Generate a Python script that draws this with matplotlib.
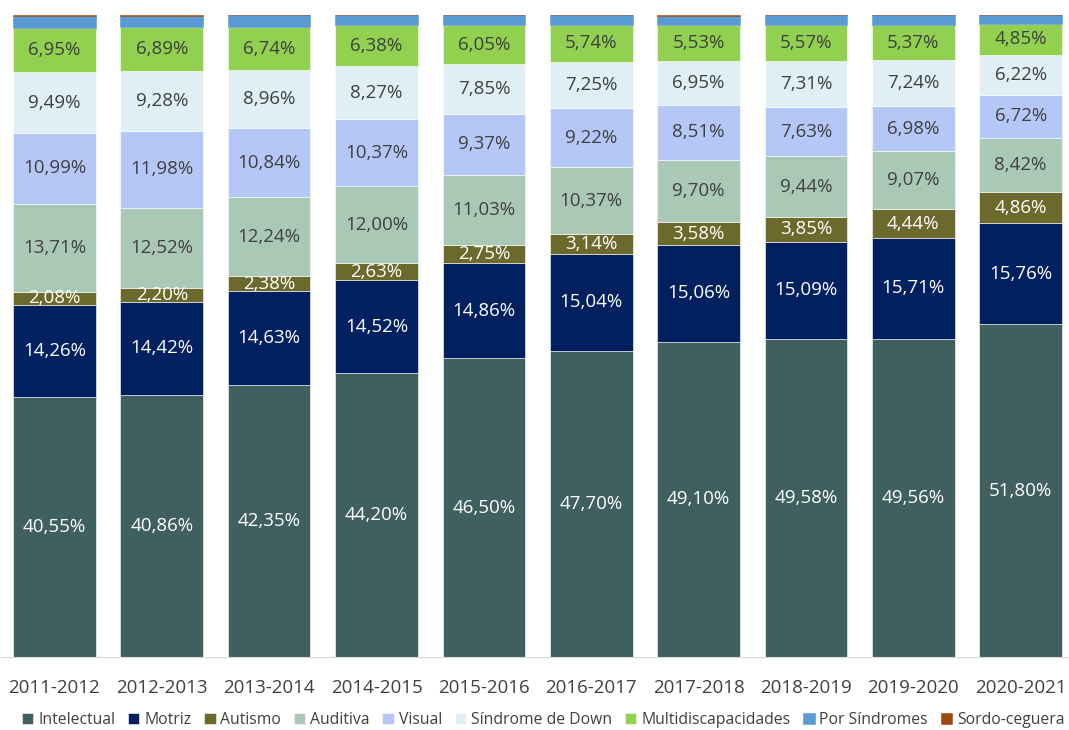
import matplotlib
matplotlib.use("Agg")
import matplotlib.pyplot as plt
import numpy as np

years = ["2011-2012", "2012-2013", "2013-2014", "2014-2015", "2015-2016",
         "2016-2017", "2017-2018", "2018-2019", "2019-2020", "2020-2021"]

intelectual = [40.55, 40.86, 42.35, 44.20, 46.50, 47.70, 49.10, 49.58, 49.56, 51.80]
motriz = [14.26, 14.42, 14.63, 14.52, 14.86, 15.04, 15.06, 15.09, 15.71, 15.76]
autismo = [2.08, 2.20, 2.38, 2.63, 2.75, 3.14, 3.58, 3.85, 4.44, 4.86]
auditiva = [13.71, 12.52, 12.24, 12.00, 11.03, 10.37, 9.70, 9.44, 9.07, 8.42]
visual = [10.99, 11.98, 10.84, 10.37, 9.37, 9.22, 8.51, 7.63, 6.98, 6.72]
down = [9.49, 9.28, 8.96, 8.27, 7.85, 7.25, 6.95, 7.31, 7.24, 6.22]
multi = [6.95, 6.89, 6.74, 6.38, 6.05, 5.74, 5.53, 5.57, 5.37, 4.85]
por_sindromes = [1.77, 1.70, 1.82, 1.58, 1.54, 1.50, 1.42, 1.48, 1.60, 1.34]
sordo = [0.20, 0.15, 0.04, 0.05, 0.05, 0.04, 0.15, 0.05, 0.03, 0.03]

series = [
    ("Intelectual", intelectual, "#405F5F", "white", True),
    ("Motriz", motriz, "#002060", "white", True),
    ("Autismo", autismo, "#6B6A2C", "white", True),
    ("Auditiva", auditiva, "#A9C9B6", "#404040", True),
    ("Visual", visual, "#B4C7F7", "#404040", True),
    ("Síndrome de Down", down, "#DFEFF4", "#404040", True),
    ("Multidiscapacidades", multi, "#92D050", "#404040", True),
    ("Por Síndromes", por_sindromes, "#5B9BD5", "#404040", False),
    ("Sordo-ceguera", sordo, "#9E480E", "#404040", False),
]

plt.rcParams['font.family'] = ['Open Sans', 'DejaVu Sans']

fig = plt.figure(figsize=(10.69, 7.30), dpi=100)
ax = fig.add_axes([0.0007, 0.1, 0.9993, 0.8795])

x = np.arange(len(years))
bottom = np.zeros(len(years))
width = 0.77
for name, vals, color, tcolor, show in series:
    vals = np.array(vals)
    ax.bar(x, vals, width, bottom=bottom, color=color, label=name,
           edgecolor="white" if show else color, linewidth=0.4)
    if show:
        for xi, b, v in zip(x, bottom, vals):
            ax.text(xi, b + v / 2, f"{v:.2f}".replace(".", ",") + "%",
                    ha="center", va="center", color=tcolor, fontsize=13.5)
    bottom += vals

ax.set_xlim(-0.5, 9.45)
ax.set_ylim(0, 100)
ax.set_xticks(x)
ax.set_xticklabels(years, fontsize=13.5, color="#404040")
ax.tick_params(axis="x", length=0, pad=16)
ax.set_yticks([])
for s in ["top", "right", "left"]:
    ax.spines[s].set_visible(False)
ax.spines["bottom"].set_color("#D9D9D9")

leg = fig.legend(loc="center", bbox_to_anchor=(0.508, 0.014), ncol=9,
                 frameon=False, fontsize=11.3, handlelength=0.75,
                 handleheight=0.75, handletextpad=0.3, columnspacing=0.8,
                 labelcolor="#404040", borderpad=0.1)

fig.savefig("out.png", dpi=100)
